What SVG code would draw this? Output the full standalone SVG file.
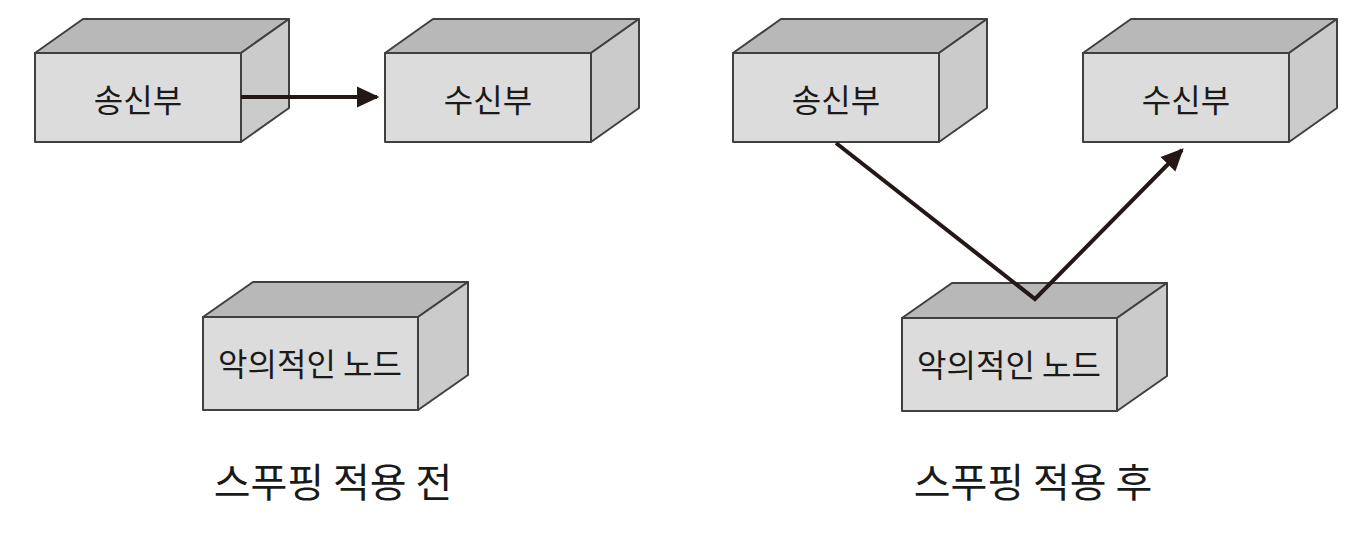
<svg xmlns="http://www.w3.org/2000/svg" width="1356" height="536" viewBox="0 0 1356 536">
<style>
.front{fill:#dcdcdc;stroke:#404040;stroke-width:2;stroke-linejoin:round}
.top{fill:#b8b8b8;stroke:#404040;stroke-width:2;stroke-linejoin:round}
.side{fill:#cbcbcb;stroke:#404040;stroke-width:2;stroke-linejoin:round}
.lbl{font-family:"Noto Sans CJK KR","Noto Sans",sans-serif;font-size:32px;font-weight:400;fill:#1a1a1a;text-anchor:middle;dominant-baseline:central}
.title{font-family:"Noto Sans CJK KR","Noto Sans",sans-serif;font-size:40px;font-weight:400;fill:#1a1a1a;text-anchor:middle;dominant-baseline:central}
.conn{fill:none;stroke:#231815;stroke-width:4;stroke-linejoin:miter}
</style>
<defs>
<marker id="ah" markerWidth="6" markerHeight="6" refX="5" refY="3" orient="auto" markerUnits="strokeWidth">
<path d="M0,0.4 L5.6,3 L0,5.6 Z" fill="#231815"/>
</marker>
</defs>
<rect width="1356" height="536" fill="#ffffff"/>

<g id="sender-before">
<polygon class="top" points="35,53 83,19 289,19 241,53"/>
<polygon class="side" points="241,53 289,19 289,108 241,142"/>
<rect class="front" x="35" y="53" width="206" height="89"/>
<text class="lbl" x="138" y="98">송신부</text>
</g>
<g id="receiver-before">
<polygon class="top" points="385,53 433,19 639,19 591,53"/>
<polygon class="side" points="591,53 639,19 639,108 591,142"/>
<rect class="front" x="385" y="53" width="206" height="89"/>
<text class="lbl" x="488" y="98">수신부</text>
</g>
<g id="malicious-before">
<polygon class="top" points="203,317 253,282 468,282 418,317"/>
<polygon class="side" points="418,317 468,282 468,375 418,410"/>
<rect class="front" x="203" y="317" width="215" height="93"/>
<text class="lbl" x="310" y="362">악의적인 노드</text>
</g>
<g id="sender-after">
<polygon class="top" points="733,53 781,19 987,19 939,53"/>
<polygon class="side" points="939,53 987,19 987,108 939,142"/>
<rect class="front" x="733" y="53" width="206" height="89"/>
<text class="lbl" x="836" y="98">송신부</text>
</g>
<g id="receiver-after">
<polygon class="top" points="1083,53 1131,19 1337,19 1289,53"/>
<polygon class="side" points="1289,53 1337,19 1337,108 1289,142"/>
<rect class="front" x="1083" y="53" width="206" height="89"/>
<text class="lbl" x="1186" y="98">수신부</text>
</g>
<g id="malicious-after">
<polygon class="top" points="902,318 952,283 1167,283 1117,318"/>
<polygon class="side" points="1117,318 1167,283 1167,376 1117,411"/>
<rect class="front" x="902" y="318" width="215" height="93"/>
<text class="lbl" x="1009" y="363">악의적인 노드</text>
</g>

<g id="connectors">
<line class="conn" x1="241" y1="97" x2="377" y2="97" marker-end="url(#ah)"/>
<polyline class="conn" points="836,143 1035,299 1182,150" marker-end="url(#ah)"/>
</g>

<text class="title" x="333" y="480">스푸핑 적용 전</text>
<text class="title" x="1033" y="480">스푸핑 적용 후</text>
</svg>
